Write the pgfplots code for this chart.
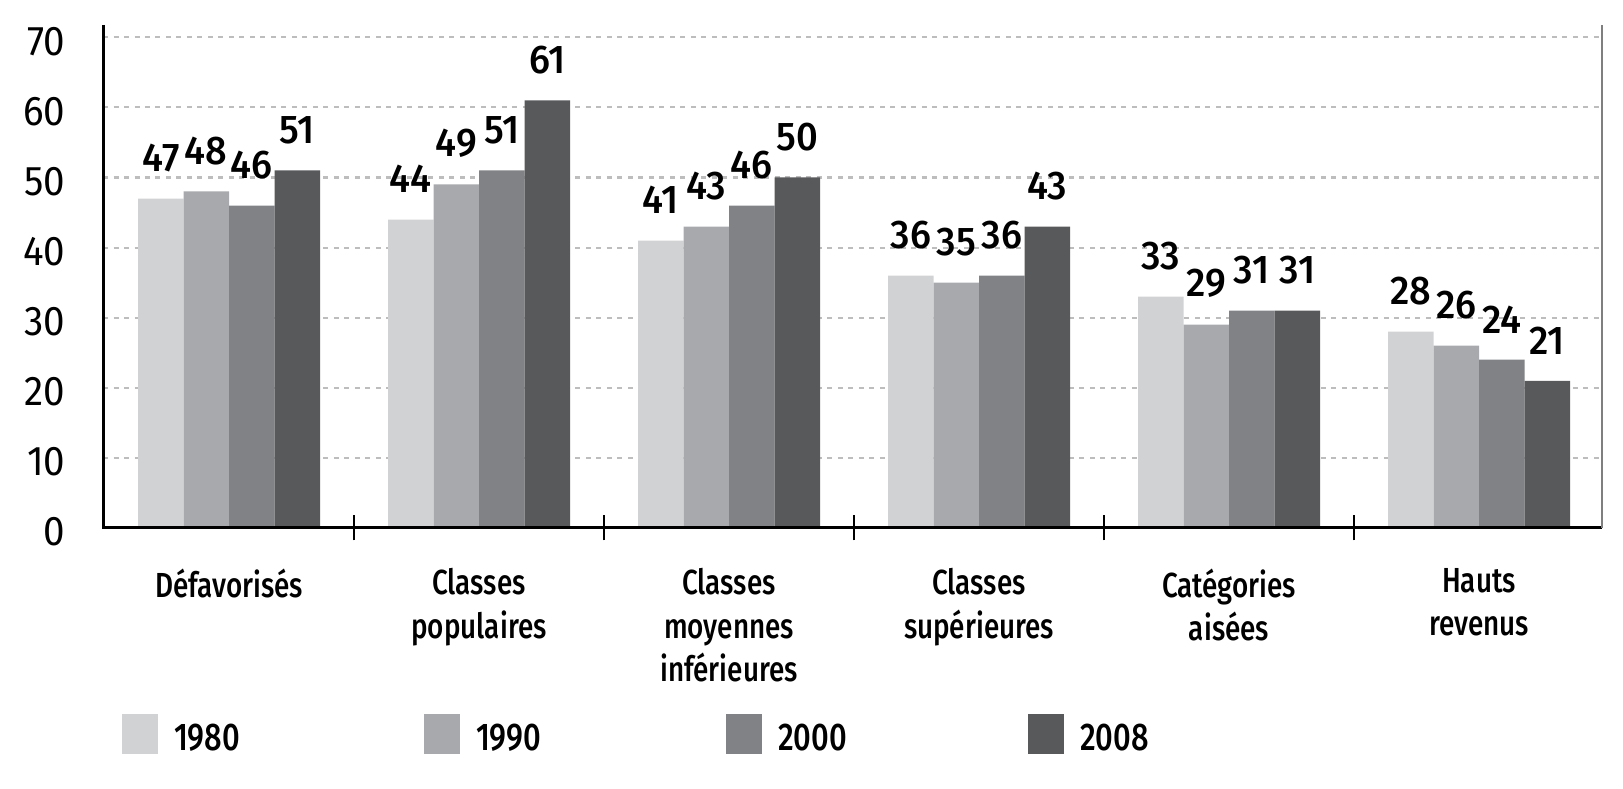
\documentclass[border=0pt]{standalone}
\usepackage{fontspec}
\setmainfont{Fira Sans}[FakeStretch=0.8]
\newfontfamily\medfont{Fira Sans Medium}[FakeStretch=0.8]
\newfontfamily\numfont{Fira Sans}[FakeStretch=0.93]
\newfontfamily\nummed{Fira Sans Medium}[FakeStretch=0.95]
\usepackage{pgfplots}
\pgfplotsset{compat=1.18}
\definecolor{cA}{HTML}{D1D2D4}
\definecolor{cB}{HTML}{A7A9AC}
\definecolor{cC}{HTML}{808285}
\definecolor{cD}{HTML}{58595B}
\definecolor{gridc}{HTML}{BDBDBD}
\definecolor{rline}{HTML}{7F7F7F}
\begin{document}
\begin{tikzpicture}
\begin{axis}[name=ax,
  scale only axis, width=14.99cm, height=5.03cm,
  xmin=-0.504, xmax=5.492, ymin=0, ymax=71.75,
  ybar=0pt, bar width=0.182,
  axis line style={draw=none},
  xtick={0,...,5},
  xticklabels={D\'efavoris\'es, {Classes\\populaires}, {Classes\\moyennes\\inf\'erieures}, {Classes\\sup\'erieures}, {Cat\'egories\\ais\'ees}, {Hauts\\revenus}},
  minor xtick={0.5,1.5,2.5,3.5,4.5},
  xtick pos=bottom, ytick pos=left,
  major tick length=0pt, minor tick length=0.25cm, tick align=center,
  minor tick style={black, line width=0.6pt},
  major tick style={draw=none},
  ytick={0,10,...,70},
  ymajorgrids, grid style={gridc, line width=0.6pt, dash pattern=on 0.05cm off 0.055cm},
  /pgf/number format/assume math mode=true,
  yticklabel style={anchor=east, inner sep=0pt, xshift=-0.37cm, yshift=-0.04cm, font=\numfont\fontsize{11.8}{13}\selectfont},
  xticklabel style={anchor=north, align=center, inner sep=0pt, yshift=-0.40cm, font=\medfont\fontsize{9.9}{12.3}\selectfont},
  nodes near coords,
  every node near coord/.append style={anchor=south, inner sep=0pt, yshift=0.26cm, text=black, font=\nummed\fontsize{11.4}{13}\selectfont},
  every axis plot post/.append style={legend image code/.code={\fill[##1] (0cm,-0.14cm) rectangle (0.36cm,0.26cm); \path (0.52cm,0cm);}},
  legend style={at={(0.0127,-0.4115)}, anchor=west, draw=none, fill=none, inner sep=0pt, outer sep=0pt,
    font=\medfont\fontsize{11}{13}\selectfont, nodes={inner sep=0pt, text width=2.50cm, align=left},
    /tikz/every even column/.append style={column sep=0pt}},
  legend columns=4, legend cell align=left,
  clip=false,
]
\addplot[fill=cA, draw=none] coordinates {(0,47) (1,44) (2,41) (3,36) (4,33) (5,28)};
\addplot[fill=cB, draw=none] coordinates {(0,48) (1,49) (2,43) (3,35) (4,29) (5,26)};
\addplot[fill=cC, draw=none] coordinates {(0,46) (1,51) (2,46) (3,36) (4,31) (5,24)};
\addplot[fill=cD, draw=none] coordinates {(0,51) (1,61) (2,50) (3,43) (4,31) (5,21)};
\legend{1980,1990,2000,2008}
\draw[black, line width=0.03cm] (rel axis cs:0,1) -- (rel axis cs:0,0) -- (rel axis cs:1,0);
\draw[rline, line width=0.02cm] (rel axis cs:1,0) -- (rel axis cs:1,1);
\end{axis}
\path ([shift={(-1.03cm,-2.61cm)}]ax.south west) rectangle ++(16.23cm,7.89cm);
\end{tikzpicture}
\end{document}
